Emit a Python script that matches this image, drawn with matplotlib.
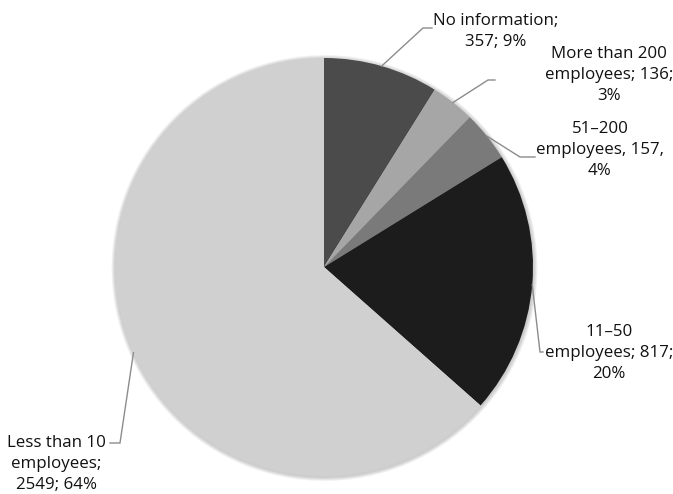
import numpy as np
import matplotlib
matplotlib.use("Agg")
import matplotlib.pyplot as plt
from matplotlib.patches import Circle

categories = ["No information", "More than 200 employees", "51\u2013200 employees",
              "11\u201350 employees", "Less than 10 employees"]
values = [357, 136, 157, 817, 2549]
percents = [9, 3, 4, 20, 64]
label_texts = [
    "No information;\n357; 9%",
    "More than 200\nemployees; 136;\n3%",
    "51\u2013200\nemployees, 157,\n4%",
    "11\u201350\nemployees; 817;\n20%",
    "Less than 10\nemployees;\n2549; 64%",
]
colors = ["#4b4b4b", "#a6a6a6", "#7a7a7a", "#1c1c1c", "#d0d0d0"]

W, H = 673, 494
fig = plt.figure(figsize=(W / 100, H / 100), dpi=100)
ax = fig.add_axes([0, 0, 1, 1])

cx, cy, R = 324, H - 267, 209

# soft shadow
for i in range(4):
    ax.add_patch(Circle((cx + 0.5, cy - 1), R + 1 + i, color="black", alpha=0.05, lw=0, zorder=0))

wedges, _ = ax.pie(values, colors=colors, startangle=90, counterclock=False,
                   center=(cx, cy), radius=R, frame=True,
                   wedgeprops=dict(linewidth=0))
ax.set_xlim(0, W)
ax.set_ylim(0, H)
ax.set_aspect("equal")
ax.axis("off")

# label layout (pixel coords, y from top): elbow point, end point, text anchor
layout = [
    dict(elbow=(423, 28), end=(432, 28), text=(496, 13)),
    dict(elbow=(488, 80), end=(495, 80), text=(609, 46)),
    dict(elbow=(520, 157), end=(535, 157), text=(600, 121)),
    dict(elbow=(540, 352), end=(543, 352), text=(609, 324)),
    dict(elbow=(120, 443), end=(110, 443), text=(56, 435)),
]

font = dict(family=["Open Sans", "DejaVu Sans"], size=12.2, color="#111111")
for w, lab, lay in zip(wedges, label_texts, layout):
    th = np.deg2rad((w.theta1 + w.theta2) / 2)
    sx, sy = cx + R * np.cos(th), cy + R * np.sin(th)
    ex, ey = lay["elbow"]
    nx, ny = lay["end"]
    ax.plot([sx, ex, nx], [sy, H - ey, H - ny], color="#8c8c8c", lw=1.0,
            solid_joinstyle="miter", zorder=3)
    tx, ty = lay["text"]
    ax.text(tx, H - ty, lab, ha="center", va="top", linespacing=1.42, **font)

fig.savefig("out.png", dpi=100)
